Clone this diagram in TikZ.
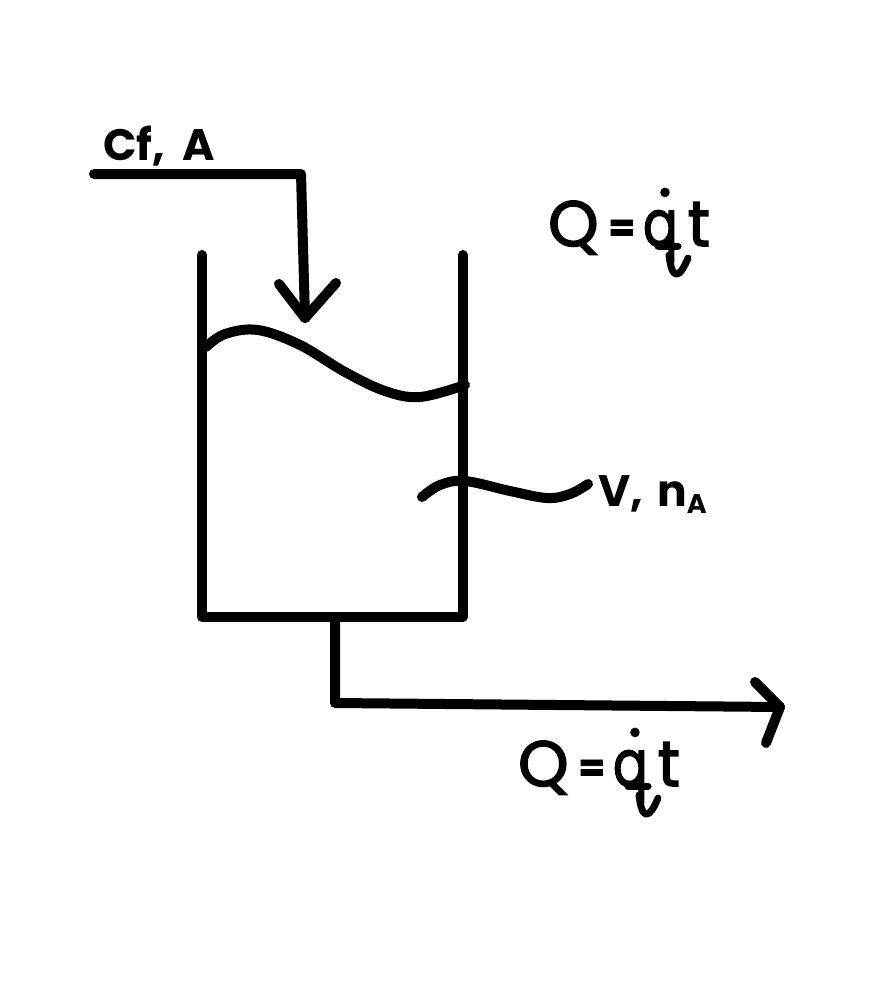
\documentclass[tikz,border=0pt]{standalone}
\usepackage{fontspec}
\usepackage{graphicx}
\setmainfont{Poppins}
\usepackage{tikz}
\newfontfamily\penbig{Poppins}[FakeBold=2.5]
\newcommand{\bigsize}{\penbig\fontsize{64}{64}\selectfont}
\newcommand{\midsize}{\bfseries\fontsize{44}{44}\selectfont}
\newcommand{\tinysize}{\bfseries\fontsize{27}{27}\selectfont}
\newcommand{\flowtext}{Q\kern10pt\raisebox{5pt}{\bfseries\fontsize{38}{38}\selectfont=}\kern8pt\scalebox{0.8}[1]{q}\llap{\raisebox{50pt}{.\kern6pt}}\kern10pt\scalebox{0.95}[1]{t}}
\tikzset{pipe/.style={line width=10pt, line cap=round, line join=round},
    pen/.style={line width=7pt, line cap=round, line join=round},
    label/.style={inner sep=0pt, anchor=base west}}

\begin{document}
\begin{tikzpicture}[x=1pt,y=-1pt]
    \useasboundingbox (0,0) rectangle (893,1007);

    \coordinate(feedstart) at (94,174);
    \coordinate(feedcorner) at (301,174);
    \coordinate(feedend) at (305,318);
    \coordinate(feedleft) at (279,284);
    \coordinate(feedright) at (336,283);

    \coordinate(tanktopleft) at (202,255);
    \coordinate(tankbotleft) at (202,617);
    \coordinate(tankbotright) at (463,617);
    \coordinate(tanktopright) at (463,255);

    \coordinate(outstart) at (335,617);
    \coordinate(outcorner) at (335,703);
    \coordinate(outend) at (780,707);
    \coordinate(outup) at (755,682);
    \coordinate(outdown) at (766,743);

    \draw[pipe](feedstart)--(feedcorner)--(feedend);
    \draw[pipe](feedleft)--(feedend)--(feedright);
    \draw[pipe](tanktopleft)--(tankbotleft)--(tankbotright)--(tanktopright);
    \draw[pipe](outstart)--(outcorner)--(outend);
    \draw[pipe](outup)--(outend)--(outdown);

    % liquid surface and pointer to the label
    \draw[pipe] plot[smooth, tension=0.6] coordinates {(206,347) (225,334) (258,330) (300,345) (345,372) (385,391) (420,397) (465,385)};
    \draw[pipe] plot[smooth, tension=0.6] coordinates {(422,497) (440,485) (465,481) (510,491) (547,498) (570,494) (588,484)};

    \node[label](feedlabel) at (103,160) {\midsize Cf,\ \kern8pt A};
    \node[label](vollabel) at (598,506) {\midsize V,\ \kern5pt n\raisebox{-7pt}{\tinysize A}};
    \node[label](toplabel) at (548,246) {\bigsize\flowtext};
    \node[label](botlabel) at (518,786) {\bigsize\flowtext};

    % hooks on the two tails
    \draw[pen](658,246)--(678,246);
    \draw[pen](669,255) .. controls (672,282) and (680,278) .. (688,258);
    \draw[pen](628,786)--(648,786);
    \draw[pen](639,795) .. controls (642,822) and (650,818) .. (658,798);
\end{tikzpicture}
\end{document}
